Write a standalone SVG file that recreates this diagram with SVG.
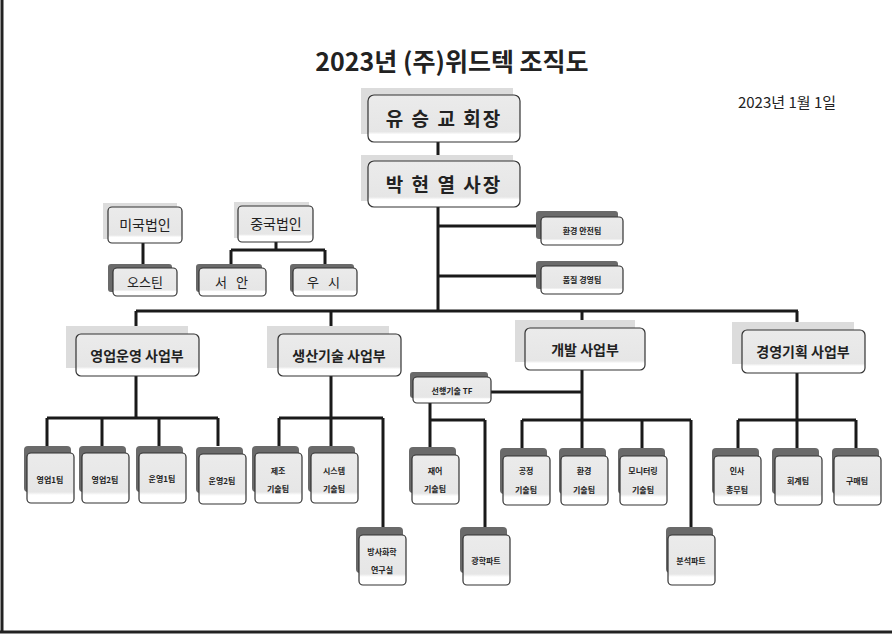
<svg xmlns="http://www.w3.org/2000/svg" width="892" height="634" viewBox="0 0 892 634">
<style>
text{font-family:"Noto Sans CJK KR","Noto Sans",sans-serif;fill:#222;text-anchor:middle}
.b{fill:url(#hat);stroke:#333;stroke-width:1.2}
.ls{fill:#dcdcdc}
.ds{fill:#6a6a6a}
.c{stroke:#1a1a1a;stroke-width:3;fill:none}
.big{font-size:19px;font-weight:bold;letter-spacing:2px}
.mid{font-size:14px}
.sm{font-size:8px;font-weight:bold}
</style>
<defs>
<linearGradient id="hat" x1="0" y1="0" x2="0" y2="1"><stop offset="0" stop-color="#ebebeb"/><stop offset="0.78" stop-color="#e6e6e6"/><stop offset="0.84" stop-color="#fff"/><stop offset="1" stop-color="#fff"/></linearGradient>
</defs>
<rect width="892" height="634" fill="#fff"/>
<line x1="2" y1="0" x2="2" y2="632" stroke="#222" stroke-width="3"/>
<line x1="0" y1="632" x2="892" y2="632" stroke="#222" stroke-width="3"/>
<text x="452" y="71" style="font-size:25px;font-weight:bold">2023년 (주)위드텍 조직도</text>
<text x="787" y="108" style="font-size:15px">2023년 1월 1일</text>
<g id="connectors" class="c">
<path d="M438 142V311M438 226H541M438 276H541M136 311H798M136 311V334M331 311V334M582 311V328M797 311V330"/>
<path d="M143 243V267M276 242V250M231 250H325M231 250V267M325 250V267"/>
<path d="M136 376V418M47 418H218M47 418V446M102 418V446M159 418V446M218 418V446"/>
<path d="M331 376V446M279 418H383M279 418V446M383 418V527"/>
<path d="M582 370V420M491 392H582M522 420H691M522 420V448M582 420V448M642 420V448M691 420V527"/>
<path d="M430 403V420M430 420H485M430 420V448M485 420V527"/>
<path d="M797 373V420M738 420H856M738 420V448M797 420V448M856 420V448"/>
</g>
<g id="n-chair"><rect class="ls" x="361" y="88" width="152" height="46"/><rect class="b" x="368" y="95" width="152" height="47" rx="6"/><text x="444" y="126" class="big">유 승 교 회장</text></g>
<g id="n-pres"><rect class="ls" x="361" y="155" width="152" height="46"/><rect class="b" x="368" y="161" width="152" height="46" rx="6"/><text x="444" y="192" class="big">박 현 열 사장</text></g>
<g id="n-env"><rect class="ds" x="536" y="211" width="82" height="28" rx="3"/><rect class="b" x="541" y="217" width="82" height="28" rx="4"/><text x="582" y="234" class="sm">환경 안전팀</text></g>
<g id="n-qual"><rect class="ds" x="536" y="261" width="82" height="28" rx="3"/><rect class="b" x="541" y="266" width="82" height="28" rx="4"/><text x="582" y="283" class="sm">품질 경영팀</text></g>
<g id="n-us"><rect class="ls" x="103" y="203" width="74" height="36"/><rect class="b" x="108" y="207" width="74" height="36" rx="4"/><text x="145" y="230" class="mid">미국법인</text></g>
<g id="n-austin"><rect class="ds" x="108" y="264" width="64" height="28" rx="3"/><rect class="b" x="113" y="268" width="64" height="28" rx="4"/><text x="145" y="287" style="font-size:13px">오스틴</text></g>
<g id="n-cn"><rect class="ls" x="234" y="202" width="75" height="36"/><rect class="b" x="238" y="206" width="75" height="36" rx="4"/><text x="276" y="229" class="mid">중국법인</text></g>
<g id="n-xian"><rect class="ds" x="196" y="264" width="66" height="28" rx="3"/><rect class="b" x="199" y="268" width="67" height="28" rx="4"/><text x="233" y="287" style="font-size:13px;letter-spacing:3px">서 안</text></g>
<g id="n-wuxi"><rect class="ds" x="290" y="264" width="64" height="28" rx="3"/><rect class="b" x="293" y="268" width="64" height="28" rx="4"/><text x="325" y="287" style="font-size:13px;letter-spacing:3px">우 시</text></g>
<g id="n-d1"><rect class="ls" x="66" y="326" width="122" height="42"/><rect class="b" x="76" y="334" width="123" height="42" rx="5"/><text x="137" y="361" class="mid" style="font-weight:bold">영업운영 사업부</text></g>
<g id="n-d2"><rect class="ls" x="267" y="326" width="122" height="42"/><rect class="b" x="278" y="334" width="123" height="42" rx="5"/><text x="339" y="361" class="mid" style="font-weight:bold">생산기술 사업부</text></g>
<g id="n-d3"><rect class="ls" x="515" y="320" width="120" height="42"/><rect class="b" x="525" y="328" width="120" height="42" rx="5"/><text x="585" y="355" class="mid" style="font-weight:bold">개발 사업부</text></g>
<g id="n-d4"><rect class="ls" x="732" y="322" width="122" height="42"/><rect class="b" x="742" y="330" width="123" height="43" rx="5"/><text x="803" y="357" class="mid" style="font-weight:bold">경영기획 사업부</text></g>
<g id="n-tf"><rect class="ds" x="410" y="372" width="78" height="26" rx="3"/><rect class="b" x="413" y="377" width="78" height="26" rx="4"/><text x="452" y="394" class="sm">선행기술 TF</text></g>
<g id="n-s1"><rect class="ds" x="24" y="446" width="47" height="46" rx="4"/><rect class="b" x="27" y="453" width="47" height="50" rx="4"/><text x="50" y="483" class="sm">영업1팀</text></g>
<g id="n-s2"><rect class="ds" x="79" y="446" width="47" height="46" rx="4"/><rect class="b" x="82" y="453" width="47" height="50" rx="4"/><text x="105" y="483" class="sm">영업2팀</text></g>
<g id="n-o1"><rect class="ds" x="136" y="446" width="47" height="46" rx="4"/><rect class="b" x="139" y="453" width="47" height="50" rx="4"/><text x="162" y="482" class="sm">운영1팀</text></g>
<g id="n-o2"><rect class="ds" x="196" y="447" width="47" height="46" rx="4"/><rect class="b" x="199" y="454" width="47" height="50" rx="4"/><text x="222" y="484" class="sm">운영2팀</text></g>
<g id="n-mfg"><rect class="ds" x="252" y="446" width="47" height="46" rx="4"/><rect class="b" x="255" y="453" width="47" height="50" rx="4"/><text x="278" y="474" class="sm">제조</text><text x="278" y="492" class="sm">기술팀</text></g>
<g id="n-sys"><rect class="ds" x="308" y="446" width="47" height="46" rx="4"/><rect class="b" x="311" y="453" width="47" height="50" rx="4"/><text x="334" y="474" class="sm">시스템</text><text x="334" y="492" class="sm">기술팀</text></g>
<g id="n-rad"><rect class="ds" x="356" y="527" width="47" height="46" rx="4"/><rect class="b" x="359" y="535" width="47" height="50" rx="4"/><text x="382" y="555" class="sm">방사화학</text><text x="382" y="573" class="sm">연구실</text></g>
<g id="n-ctl"><rect class="ds" x="409" y="447" width="47" height="46" rx="4"/><rect class="b" x="412" y="455" width="47" height="49" rx="4"/><text x="435" y="474" class="sm">재어</text><text x="435" y="492" class="sm">기술팀</text></g>
<g id="n-opt"><rect class="ds" x="460" y="527" width="47" height="46" rx="4"/><rect class="b" x="463" y="535" width="47" height="50" rx="4"/><text x="486" y="564" class="sm">광학파트</text></g>
<g id="n-proc"><rect class="ds" x="500" y="448" width="47" height="46" rx="4"/><rect class="b" x="503" y="456" width="47" height="49" rx="4"/><text x="526" y="474" class="sm">공정</text><text x="526" y="493" class="sm">기술팀</text></g>
<g id="n-envt"><rect class="ds" x="559" y="448" width="47" height="46" rx="4"/><rect class="b" x="561" y="456" width="47" height="49" rx="4"/><text x="584" y="474" class="sm">환경</text><text x="584" y="493" class="sm">기술팀</text></g>
<g id="n-mon"><rect class="ds" x="618" y="448" width="47" height="46" rx="4"/><rect class="b" x="620" y="456" width="47" height="49" rx="4"/><text x="643" y="474" class="sm">모니터링</text><text x="643" y="493" class="sm">기술팀</text></g>
<g id="n-ana"><rect class="ds" x="666" y="527" width="47" height="46" rx="4"/><rect class="b" x="668" y="535" width="47" height="50" rx="4"/><text x="691" y="564" class="sm">분석파트</text></g>
<g id="n-hr"><rect class="ds" x="712" y="448" width="47" height="46" rx="4"/><rect class="b" x="714" y="456" width="47" height="49" rx="4"/><text x="737" y="474" class="sm">인사</text><text x="737" y="493" class="sm">총무팀</text></g>
<g id="n-acc"><rect class="ds" x="772" y="448" width="47" height="46" rx="4"/><rect class="b" x="775" y="456" width="47" height="49" rx="4"/><text x="798" y="484" class="sm">회계팀</text></g>
<g id="n-pur"><rect class="ds" x="832" y="448" width="47" height="46" rx="4"/><rect class="b" x="834" y="456" width="47" height="49" rx="4"/><text x="857" y="484" class="sm">구매팀</text></g>
</svg>
